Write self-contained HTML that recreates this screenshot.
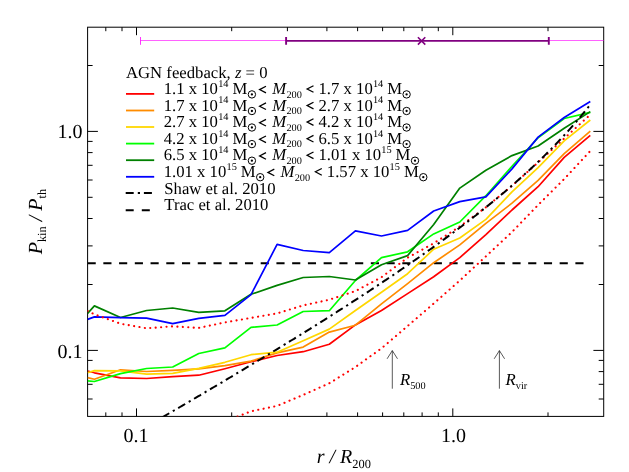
<!DOCTYPE html><html><head><meta charset="utf-8"><style>html,body{margin:0;padding:0;background:#fff}svg{display:block}text{font-family:"Liberation Serif",serif;fill:#000;text-rendering:geometricPrecision}</style></head><body><div style="will-change:transform;width:629px;height:472px">
<svg width="629" height="472" viewBox="0 0 629 472">
<rect width="629" height="472" fill="#fff"/>
<g stroke="#000" stroke-width="1" fill="none">
<rect x="87.6" y="27.2" width="516.1" height="389.2"/>
<path d="M105.8 416.4V412.4M105.8 27.2V31.2"/>
<path d="M122.0 416.4V412.4M122.0 27.2V31.2"/>
<path d="M136.5 416.4V408.4M136.5 27.2V35.2"/>
<path d="M231.7 416.4V412.4M231.7 27.2V31.2"/>
<path d="M287.4 416.4V412.4M287.4 27.2V31.2"/>
<path d="M326.9 416.4V412.4M326.9 27.2V31.2"/>
<path d="M357.6 416.4V412.4M357.6 27.2V31.2"/>
<path d="M382.6 416.4V412.4M382.6 27.2V31.2"/>
<path d="M403.8 416.4V412.4M403.8 27.2V31.2"/>
<path d="M422.1 416.4V412.4M422.1 27.2V31.2"/>
<path d="M438.3 416.4V412.4M438.3 27.2V31.2"/>
<path d="M452.8 416.4V408.4M452.8 27.2V35.2"/>
<path d="M548.0 416.4V412.4M548.0 27.2V31.2"/>
<path d="M87.6 399.0H92.6M603.7 399.0H598.7"/>
<path d="M87.6 384.3H92.6M603.7 384.3H598.7"/>
<path d="M87.6 371.6H92.6M603.7 371.6H598.7"/>
<path d="M87.6 360.4H92.6M603.7 360.4H598.7"/>
<path d="M87.6 350.4H97.9M603.7 350.4H593.4"/>
<path d="M87.6 284.5H92.6M603.7 284.5H598.7"/>
<path d="M87.6 245.9H92.6M603.7 245.9H598.7"/>
<path d="M87.6 218.5H92.6M603.7 218.5H598.7"/>
<path d="M87.6 197.3H92.6M603.7 197.3H598.7"/>
<path d="M87.6 180.0H92.6M603.7 180.0H598.7"/>
<path d="M87.6 165.3H92.6M603.7 165.3H598.7"/>
<path d="M87.6 152.6H92.6M603.7 152.6H598.7"/>
<path d="M87.6 141.4H92.6M603.7 141.4H598.7"/>
<path d="M87.6 131.4H97.9M603.7 131.4H593.4"/>
<path d="M87.6 65.5H92.6M603.7 65.5H598.7"/>
</g>
<defs><clipPath id="c"><rect x="87.6" y="27.2" width="516.1" height="389.2"/></clipPath></defs>
<g clip-path="url(#c)" fill="none" stroke-linejoin="round">
<line x1="140.5" y1="40.5" x2="610" y2="40.5" stroke="#ff00ff" stroke-width="0.62"/>
<line x1="140.5" y1="37" x2="140.5" y2="44.8" stroke="#ff00ff" stroke-width="0.8"/>
<line x1="286" y1="40.9" x2="548.8" y2="40.9" stroke="#800080" stroke-width="1.9"/>
<line x1="286.1" y1="37.1" x2="286.1" y2="44.8" stroke="#800080" stroke-width="1.9"/>
<line x1="548.8" y1="37.1" x2="548.8" y2="44.8" stroke="#800080" stroke-width="1.9"/>
<path d="M417.9 37.2 L425.3 44.6 M425.3 37.2 L417.9 44.6" stroke="#800080" stroke-width="1.6"/>
<line x1="87.6" y1="263.3" x2="584" y2="263.3" stroke="#000" stroke-width="2" stroke-dasharray="8.15 7.585"/>
<polyline points="87.6,371.0 94.4,372.8 120.5,377.8 146.6,378.5 172.7,376.6 198.8,375.2 224.9,368.7 251.0,361.8 277.1,355.5 303.2,351.7 329.3,344.3 355.4,324.9 381.5,310.5 407.6,293.6 433.7,276.7 459.8,257.6 485.9,234.7 512.0,210.0 538.1,186.7 564.2,157.4 590.3,135.3" stroke="#ff0000" stroke-width="1.7"/>
<polyline points="87.6,377.6 94.4,379.3 120.5,369.8 146.6,371.5 172.7,370.3 198.8,368.8 224.9,365.6 251.0,361.1 277.1,352.9 303.2,347.1 329.3,332.1 355.4,325.2 381.5,303.9 407.6,283.7 433.7,262.7 459.8,244.9 485.9,223.3 512.0,203.2 538.1,180.3 564.2,153.6 590.3,131.2" stroke="#ff8c00" stroke-width="1.7"/>
<polyline points="87.6,372.8 94.4,370.6 120.5,370.9 146.6,374.1 172.7,373.3 198.8,368.3 224.9,362.3 251.0,354.7 277.1,352.2 303.2,340.7 329.3,329.1 355.4,310.5 381.5,292.3 407.6,273.7 433.7,249.2 459.8,238.0 485.9,219.4 512.0,191.8 538.1,167.6 564.2,140.9 590.3,120.0" stroke="#ffd700" stroke-width="1.7"/>
<polyline points="87.6,380.8 94.4,381.5 120.5,373.6 146.6,368.5 172.7,367.0 198.8,353.5 224.9,347.8 251.0,327.4 277.1,325.0 303.2,311.5 329.3,310.7 355.4,280.5 381.5,257.6 407.6,251.8 433.7,233.9 459.8,222.0 485.9,195.7 512.0,166.3 538.1,137.8 564.2,118.5 590.3,112.4" stroke="#00ff00" stroke-width="1.7"/>
<polyline points="87.6,313.4 94.4,305.9 120.5,317.5 146.6,310.5 172.7,308.0 198.8,312.4 224.9,310.8 251.0,294.3 277.1,285.4 303.2,277.5 329.3,276.5 355.4,280.0 381.5,264.7 407.6,255.6 433.7,224.5 459.8,188.1 485.9,170.2 512.0,155.6 538.1,146.0 564.2,128.2 590.3,111.6" stroke="#008000" stroke-width="1.7"/>
<polyline points="87.6,319.4 94.4,316.9 120.5,317.6 146.6,318.1 172.7,323.7 198.8,318.3 224.9,315.4 251.0,294.6 277.1,244.4 303.2,250.5 329.3,252.6 355.4,230.9 381.5,236.0 407.6,230.4 433.7,211.0 459.8,201.6 485.9,196.9 512.0,168.9 538.1,137.1 564.2,117.5 590.3,101.5" stroke="#0000ff" stroke-width="1.7"/>
<polyline points="87.6,311.0 94.4,314.3 120.5,323.7 146.6,328.3 172.7,326.3 198.8,327.9 224.9,322.4 251.0,317.9 277.1,313.4 303.2,305.4 329.3,299.7 355.4,291.1 381.5,277.2 407.6,257.7 433.7,243.3 459.8,226.5 485.9,207.2 512.0,185.8 538.1,162.4 564.2,138.4 590.3,114.6" stroke="#ff0000" stroke-width="2.1" stroke-linecap="round" stroke-dasharray="0.1 5.35"/>
<polyline points="237.6,416.6 251.0,411.3 277.1,405.9 303.2,394.9 329.3,383.3 355.4,367.0 381.5,348.3 407.6,326.0 433.7,303.5 459.8,280.5 485.9,256.3 512.0,232.0 538.1,205.0 564.2,179.0 590.3,151.0" stroke="#ff0000" stroke-width="2.1" stroke-linecap="round" stroke-dasharray="0.1 5.35"/>
<polyline points="120.0,441.8 122.0,440.6 124.0,439.5 126.0,438.3 128.0,437.2 130.0,436.0 132.0,434.9 134.0,433.7 136.0,432.5 138.0,431.4 140.0,430.2 142.0,429.1 144.0,427.9 146.0,426.8 148.0,425.6 150.0,424.4 152.0,423.3 154.0,422.1 156.0,421.0 158.0,419.8 160.0,418.6 162.0,417.5 164.0,416.3 166.0,415.2 168.0,414.0 170.0,412.8 172.0,411.7 174.0,410.5 176.0,409.3 178.0,408.2 180.0,407.0 182.0,405.8 184.0,404.7 186.0,403.5 188.0,402.3 190.0,401.1 192.0,400.0 194.0,398.8 196.0,397.6 198.0,396.4 200.0,395.3 202.0,394.1 204.0,392.9 206.0,391.7 208.0,390.6 210.0,389.4 212.0,388.2 214.0,387.0 216.0,385.8 218.0,384.6 220.0,383.5 222.0,382.3 224.0,381.1 226.0,379.9 228.0,378.7 230.0,377.5 232.0,376.3 234.0,375.1 236.0,373.9 238.0,372.7 240.0,371.5 242.0,370.3 244.0,369.1 246.0,367.9 248.0,366.7 250.0,365.5 252.0,364.3 254.0,363.1 256.0,361.9 258.0,360.7 260.0,359.5 262.0,358.3 264.0,357.1 266.0,355.9 268.0,354.7 270.0,353.5 272.0,352.2 274.0,351.0 276.0,349.8 278.0,348.6 280.0,347.4 282.0,346.1 284.0,344.9 286.0,343.7 288.0,342.5 290.0,341.2 292.0,340.0 294.0,338.8 296.0,337.5 298.0,336.3 300.0,335.1 302.0,333.8 304.0,332.6 306.0,331.3 308.0,330.1 310.0,328.9 312.0,327.6 314.0,326.4 316.0,325.1 318.0,323.9 320.0,322.6 322.0,321.3 324.0,320.1 326.0,318.8 328.0,317.6 330.0,316.3 332.0,315.0 334.0,313.8 336.0,312.5 338.0,311.2 340.0,309.9 342.0,308.7 344.0,307.4 346.0,306.1 348.0,304.8 350.0,303.5 352.0,302.2 354.0,300.9 356.0,299.6 358.0,298.3 360.0,297.0 362.0,295.7 364.0,294.4 366.0,293.1 368.0,291.8 370.0,290.5 372.0,289.2 374.0,287.9 376.0,286.5 378.0,285.2 380.0,283.9 382.0,282.5 384.0,281.2 386.0,279.9 388.0,278.5 390.0,277.2 392.0,275.8 394.0,274.5 396.0,273.1 398.0,271.8 400.0,270.4 402.0,269.0 404.0,267.7 406.0,266.3 408.0,264.9 410.0,263.5 412.0,262.2 414.0,260.8 416.0,259.4 418.0,258.0 420.0,256.6 422.0,255.2 424.0,253.7 426.0,252.3 428.0,250.9 430.0,249.5 432.0,248.1 434.0,246.6 436.0,245.2 438.0,243.7 440.0,242.3 442.0,240.8 444.0,239.4 446.0,237.9 448.0,236.4 450.0,234.9 452.0,233.5 454.0,232.0 456.0,230.5 458.0,229.0 460.0,227.5 462.0,226.0 464.0,224.4 466.0,222.9 468.0,221.4 470.0,219.8 472.0,218.3 474.0,216.7 476.0,215.2 478.0,213.6 480.0,212.0 482.0,210.4 484.0,208.8 486.0,207.2 488.0,205.6 490.0,204.0 492.0,202.4 494.0,200.7 496.0,199.1 498.0,197.4 500.0,195.8 502.0,194.1 504.0,192.4 506.0,190.7 508.0,189.0 510.0,187.3 512.0,185.6 514.0,183.8 516.0,182.1 518.0,180.3 520.0,178.5 522.0,176.7 524.0,174.9 526.0,173.1 528.0,171.3 530.0,169.4 532.0,167.6 534.0,165.7 536.0,163.8 538.0,161.9 540.0,160.0 542.0,158.1 544.0,156.1 546.0,154.1 548.0,152.1 550.0,150.1 552.0,148.1 554.0,146.1 556.0,144.0 558.0,141.9 560.0,139.8 562.0,137.7 564.0,135.5 566.0,133.3 568.0,131.1 570.0,128.9 572.0,126.6 574.0,124.3 576.0,122.0 578.0,119.7 580.0,117.3 582.0,114.9 584.0,112.5 586.0,110.0 588.0,107.5 590.0,104.9 590.6,104.1" stroke="#000" stroke-width="2" stroke-dasharray="8.1 4.15 2.2 3.99" stroke-dashoffset="6.51"/>
</g>
<g stroke="#222" stroke-width="0.75" fill="none">
<path d="M392.3 388.7V350.6M387.1 358.8L392.3 350.6L397.5 358.8"/>
<path d="M499.4 388.7V350.6M494.2 358.8L499.4 350.6L504.6 358.8"/>
</g>
<g font-size="20">
<text x="82.4" y="138.4" text-anchor="end">1.0</text>
<text x="82.4" y="357.6" text-anchor="end">0.1</text>
<text x="135.9" y="441.7" text-anchor="middle">0.1</text>
<text x="453.6" y="441.7" text-anchor="middle">1.0</text>
</g>
<text x="316.7" y="462.8" font-size="20"><tspan font-style="italic">r / R</tspan><tspan font-size="12.4" dy="4.8">200</tspan></text>
<text transform="translate(42.1,254.3) rotate(-90)" font-size="20"><tspan font-style="italic">P</tspan><tspan font-size="12.4" dy="4">kin</tspan><tspan dy="-4" font-style="italic"> / P</tspan><tspan font-size="12.4" dy="4">th</tspan></text>
<text x="400.0" y="385.2" font-size="16.7"><tspan font-style="italic">R</tspan><tspan font-size="10.3" dy="4">500</tspan></text>
<text x="505.6" y="385.2" font-size="16.7"><tspan font-style="italic">R</tspan><tspan font-size="10.3" dy="4">vir</tspan></text>
<g font-size="16.7">
<text x="126.0" y="77.6">AGN feedback, <tspan font-style="italic">z</tspan> = 0</text>
<line x1="126" y1="93.9" x2="154.2" y2="93.9" stroke="#ff0000" stroke-width="1.8"/>
<text x="163.7" y="94.1">1.1 x 10</text><text x="218.2" y="86.8" font-size="10.3">14</text><text x="232.5" y="94.1">M</text><circle cx="251.9" cy="94.4" r="3.7" fill="none" stroke="#000" stroke-width="1"/><circle cx="251.9" cy="94.4" r="1.15" fill="#000"/>
<path d="M266.0 86.3L259.6 89.6L266.0 92.9" fill="none" stroke="#000" stroke-width="1.25" stroke-linejoin="miter"/>
<text x="272.3" y="94.1" font-style="italic">M</text>
<text x="286.4" y="97.7" font-size="10.3">200</text>
<path d="M313.5 85.7L307.1 89.0L313.5 92.3" fill="none" stroke="#000" stroke-width="1.25" stroke-linejoin="miter"/>
<text x="318.5" y="94.1">1.7 x 10</text><text x="372.9" y="86.8" font-size="10.3">14</text><text x="387.2" y="94.1">M</text><circle cx="406.6" cy="94.4" r="3.7" fill="none" stroke="#000" stroke-width="1"/><circle cx="406.6" cy="94.4" r="1.15" fill="#000"/>
<line x1="126" y1="110.5" x2="154.2" y2="110.5" stroke="#ff8c00" stroke-width="1.8"/>
<text x="163.7" y="110.7">1.7 x 10</text><text x="218.2" y="103.4" font-size="10.3">14</text><text x="232.5" y="110.7">M</text><circle cx="251.9" cy="111.0" r="3.7" fill="none" stroke="#000" stroke-width="1"/><circle cx="251.9" cy="111.0" r="1.15" fill="#000"/>
<path d="M266.0 102.9L259.6 106.2L266.0 109.5" fill="none" stroke="#000" stroke-width="1.25" stroke-linejoin="miter"/>
<text x="272.3" y="110.7" font-style="italic">M</text>
<text x="286.4" y="114.3" font-size="10.3">200</text>
<path d="M313.5 102.3L307.1 105.6L313.5 108.9" fill="none" stroke="#000" stroke-width="1.25" stroke-linejoin="miter"/>
<text x="318.5" y="110.7">2.7 x 10</text><text x="372.9" y="103.4" font-size="10.3">14</text><text x="387.2" y="110.7">M</text><circle cx="406.6" cy="111.0" r="3.7" fill="none" stroke="#000" stroke-width="1"/><circle cx="406.6" cy="111.0" r="1.15" fill="#000"/>
<line x1="126" y1="127.0" x2="154.2" y2="127.0" stroke="#ffd700" stroke-width="1.8"/>
<text x="163.7" y="127.2">2.7 x 10</text><text x="218.2" y="119.9" font-size="10.3">14</text><text x="232.5" y="127.2">M</text><circle cx="251.9" cy="127.5" r="3.7" fill="none" stroke="#000" stroke-width="1"/><circle cx="251.9" cy="127.5" r="1.15" fill="#000"/>
<path d="M266.0 119.4L259.6 122.7L266.0 126.0" fill="none" stroke="#000" stroke-width="1.25" stroke-linejoin="miter"/>
<text x="272.3" y="127.2" font-style="italic">M</text>
<text x="286.4" y="130.8" font-size="10.3">200</text>
<path d="M313.5 118.8L307.1 122.1L313.5 125.4" fill="none" stroke="#000" stroke-width="1.25" stroke-linejoin="miter"/>
<text x="318.5" y="127.2">4.2 x 10</text><text x="372.9" y="119.9" font-size="10.3">14</text><text x="387.2" y="127.2">M</text><circle cx="406.6" cy="127.5" r="3.7" fill="none" stroke="#000" stroke-width="1"/><circle cx="406.6" cy="127.5" r="1.15" fill="#000"/>
<line x1="126" y1="143.6" x2="154.2" y2="143.6" stroke="#00ff00" stroke-width="1.8"/>
<text x="163.7" y="143.8">4.2 x 10</text><text x="218.2" y="136.5" font-size="10.3">14</text><text x="232.5" y="143.8">M</text><circle cx="251.9" cy="144.1" r="3.7" fill="none" stroke="#000" stroke-width="1"/><circle cx="251.9" cy="144.1" r="1.15" fill="#000"/>
<path d="M266.0 136.0L259.6 139.3L266.0 142.6" fill="none" stroke="#000" stroke-width="1.25" stroke-linejoin="miter"/>
<text x="272.3" y="143.8" font-style="italic">M</text>
<text x="286.4" y="147.4" font-size="10.3">200</text>
<path d="M313.5 135.4L307.1 138.7L313.5 142.0" fill="none" stroke="#000" stroke-width="1.25" stroke-linejoin="miter"/>
<text x="318.5" y="143.8">6.5 x 10</text><text x="372.9" y="136.5" font-size="10.3">14</text><text x="387.2" y="143.8">M</text><circle cx="406.6" cy="144.1" r="3.7" fill="none" stroke="#000" stroke-width="1"/><circle cx="406.6" cy="144.1" r="1.15" fill="#000"/>
<line x1="126" y1="160.2" x2="154.2" y2="160.2" stroke="#008000" stroke-width="1.8"/>
<text x="163.7" y="160.4">6.5 x 10</text><text x="218.2" y="153.1" font-size="10.3">14</text><text x="232.5" y="160.4">M</text><circle cx="251.9" cy="160.7" r="3.7" fill="none" stroke="#000" stroke-width="1"/><circle cx="251.9" cy="160.7" r="1.15" fill="#000"/>
<path d="M266.0 152.6L259.6 155.9L266.0 159.2" fill="none" stroke="#000" stroke-width="1.25" stroke-linejoin="miter"/>
<text x="272.3" y="160.4" font-style="italic">M</text>
<text x="286.4" y="164.0" font-size="10.3">200</text>
<path d="M313.5 152.0L307.1 155.3L313.5 158.6" fill="none" stroke="#000" stroke-width="1.25" stroke-linejoin="miter"/>
<text x="318.5" y="160.4">1.01 x 10</text><text x="381.3" y="153.1" font-size="10.3">15</text><text x="395.6" y="160.4">M</text><circle cx="415.0" cy="160.7" r="3.7" fill="none" stroke="#000" stroke-width="1"/><circle cx="415.0" cy="160.7" r="1.15" fill="#000"/>
<line x1="126" y1="176.8" x2="154.2" y2="176.8" stroke="#0000ff" stroke-width="1.8"/>
<text x="163.7" y="176.9">1.01 x 10</text><text x="226.5" y="169.6" font-size="10.3">15</text><text x="240.8" y="176.9">M</text><circle cx="260.2" cy="177.2" r="3.7" fill="none" stroke="#000" stroke-width="1"/><circle cx="260.2" cy="177.2" r="1.15" fill="#000"/>
<path d="M274.3 169.1L267.9 172.4L274.3 175.8" fill="none" stroke="#000" stroke-width="1.25" stroke-linejoin="miter"/>
<text x="280.6" y="176.9" font-style="italic">M</text>
<text x="294.7" y="180.5" font-size="10.3">200</text>
<path d="M321.8 168.5L315.4 171.8L321.8 175.2" fill="none" stroke="#000" stroke-width="1.25" stroke-linejoin="miter"/>
<text x="326.8" y="176.9">1.57 x 10</text><text x="389.6" y="169.6" font-size="10.3">15</text><text x="403.9" y="176.9">M</text><circle cx="423.3" cy="177.2" r="3.7" fill="none" stroke="#000" stroke-width="1"/><circle cx="423.3" cy="177.2" r="1.15" fill="#000"/>
<line x1="125.7" y1="193.0" x2="154.2" y2="193.0" stroke="#000" stroke-width="2" stroke-dasharray="8 4.1 2.2 3.9"/>
<text x="164.3" y="193.5">Shaw et al. 2010</text>
<line x1="125.7" y1="210.3" x2="154.2" y2="210.3" stroke="#000" stroke-width="2" stroke-dasharray="8 8.1"/>
<text x="164.3" y="210.1">Trac et al. 2010</text>
</g>
</svg></div></body></html>
